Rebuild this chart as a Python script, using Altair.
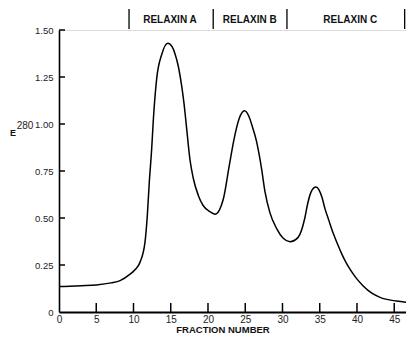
import altair as alt
import pandas as pd

# Elution profile (fraction number vs E280)
fraction = [0, 3, 5, 7, 8.2, 9.5, 10.2, 10.87, 11.54, 11.85, 12.12, 12.44, 12.66, 13.11, 13.79, 14.6,
            15.2, 15.6, 16.0, 16.4, 16.78, 17.1, 17.58, 18.03, 18.7, 19.37, 20.2, 20.94, 22.05, 22.86,
            23.5, 24.2, 24.9, 25.5, 26.0, 26.5, 26.9, 27.2, 27.65, 28.3, 29.2, 30.1, 31.0, 32.1, 33.0,
            33.4, 33.8, 34.2, 34.5, 34.9, 35.3, 35.7, 36.2, 36.8, 37.4, 38.0, 38.5, 39.1, 39.9, 40.8,
            42.0, 43.1, 45.3, 47.6]
e280 = [0.135, 0.14, 0.144, 0.155, 0.167, 0.20, 0.225, 0.264, 0.37, 0.51, 0.69, 0.867, 1.02, 1.24, 1.37, 1.43,
        1.41, 1.37, 1.31, 1.22, 1.11, 0.99, 0.81, 0.71, 0.62, 0.565, 0.535, 0.52, 0.60, 0.78,
        0.92, 1.03, 1.07, 1.04, 0.98, 0.91, 0.83, 0.76, 0.64, 0.53, 0.445, 0.392, 0.374, 0.397, 0.50,
        0.58, 0.635, 0.66, 0.665, 0.65, 0.61, 0.55, 0.49, 0.42, 0.36, 0.305, 0.265, 0.225, 0.18, 0.14,
        0.10, 0.078, 0.058, 0.048]

# Fraction pools
pool_names = ["RELAXIN A", "RELAXIN B", "RELAXIN C"]
pool_centers = [14.9, 25.6, 39.1]
pool_bounds = [9.4, 20.7, 30.6, 46.4]

x_ticks = [0, 5, 10, 15, 20, 25, 30, 35, 40, 45]
y_ticks = [0, 0.25, 0.5, 0.75, 1.0, 1.25, 1.5]

W, H = 347, 282
FONT = "Liberation Sans"

curve = pd.DataFrame({"fraction": fraction, "e280": e280})

xscale = alt.Scale(domain=[0, 46.58], nice=False, zero=False)
yscale = alt.Scale(domain=[0, 1.5], nice=False)

line = alt.Chart(curve).mark_line(color="black", strokeWidth=1.5, interpolate="monotone", clip=True).encode(
    x=alt.X("fraction:Q", scale=xscale,
            axis=alt.Axis(orient="bottom", values=x_ticks, ticks=False, tickSize=0, labelPadding=2,
                          domainColor="black", domainWidth=2, labelFontSize=10, labelFont=FONT,
                          labelColor="#222", grid=False, title=None, labelFlush=False)),
    y=alt.Y("e280:Q", scale=yscale,
            axis=alt.Axis(orient="left", values=y_ticks, ticks=False, tickSize=0, labelPadding=6,
                          domainColor="black", domainWidth=1.6, labelFontSize=9.5, labelFont=FONT,
                          labelColor="#222", grid=False, title=None, labelFlush=False,
                          labelExpr="datum.value == 0 ? '0' : format(datum.value, '.2f')")),
)

# inward-pointing ticks
xt_df = pd.DataFrame({"t": x_ticks[1:]})
x_tick_marks = alt.Chart(xt_df).mark_rule(color="black", strokeWidth=1.5).encode(
    x=alt.X("t:Q", scale=xscale, axis=None), y=alt.value(H), y2=alt.value(H - 9)
)
yt_df = pd.DataFrame({"t": y_ticks[1:]})
y_tick_marks = alt.Chart(yt_df).mark_rule(color="black", strokeWidth=1.5).encode(
    y=alt.Y("t:Q", scale=yscale, axis=None), x=alt.value(0), x2=alt.value(6)
)

labels_df = pd.DataFrame({"x": pool_centers, "name": pool_names})
pool_labels = alt.Chart(labels_df).mark_text(
    font=FONT, fontWeight="bold", fontSize=10, baseline="middle", align="center", color="#111"
).encode(x=alt.X("x:Q", scale=xscale, axis=None), y=alt.value(-10), text="name:N")

bounds_df = pd.DataFrame({"x": pool_bounds})
pool_rules = alt.Chart(bounds_df).mark_rule(color="black", strokeWidth=1.3).encode(
    x=alt.X("x:Q", scale=xscale, axis=None), y=alt.value(-21), y2=alt.value(-1)
)

one = pd.DataFrame({"k": [0]})
e_text = alt.Chart(one).mark_text(text="E", font=FONT, fontWeight="bold", fontSize=9,
                                  align="center", baseline="middle", color="#111").encode(
    x=alt.value(-46), y=alt.value(103))
sub_text = alt.Chart(one).mark_text(text="280", font=FONT, fontSize=10,
                                    align="center", baseline="middle", color="#222").encode(
    x=alt.value(-34), y=alt.value(96))
x_title = alt.Chart(one).mark_text(text="FRACTION NUMBER", font=FONT, fontWeight="bold", fontSize=9.5,
                                   align="center", baseline="middle", color="#111").encode(
    x=alt.value(164), y=alt.value(H + 18))

chart = alt.layer(line, x_tick_marks, y_tick_marks, pool_rules, pool_labels, e_text, sub_text,
                  x_title).resolve_axis(
    x="independent", y="independent"
).properties(
    width=W, height=H,
    autosize=alt.AutoSizeParams(type="none"),
    padding={"left": 51, "top": 22, "right": 0, "bottom": 22},
).configure_view(stroke=None).configure(background="white")

chart.save("out.html", embed_options={"renderer": "svg", "actions": False})
